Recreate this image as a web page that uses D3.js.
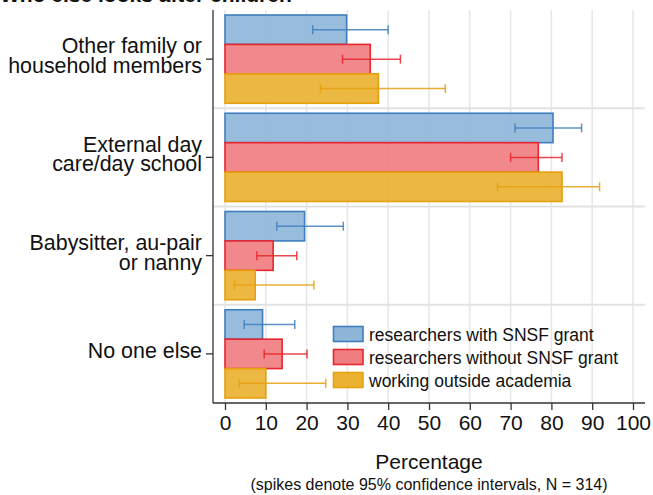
<!DOCTYPE html>
<html>
<head>
<meta charset="utf-8">
<script src="https://cdn.jsdelivr.net/npm/d3@7"></script>
<style>
  body { margin: 0; background: #fff; }
  svg { display: block; font-family: "Liberation Sans", Arial, sans-serif; }
</style>
</head>
<body>
<div id="chart"></div>
<script>
// categories (two-line labels as in the original)
const categories = [
  ["Other family or", "household members"],
  ["External day", "care/day school"],
  ["Babysitter, au-pair", "or nanny"],
  ["No one else"]
];
const seriesNames = ["researchers with SNSF grant", "researchers without SNSF grant", "working outside academia"];

// percentages
const withGrant    = [29.8, 80.4, 19.5, 9.2];
const withoutGrant = [35.6, 76.8, 11.8, 14.0];
const outside      = [37.6, 82.6, 7.4, 10.0];

// 95% confidence intervals
const withGrantLo    = [21.5, 71.1, 12.7, 4.7];
const withGrantHi    = [40.0, 87.4, 29.0, 17.1];
const withoutGrantLo = [28.8, 70.0, 7.8, 9.6];
const withoutGrantHi = [43.0, 82.6, 17.6, 20.1];
const outsideLo      = [23.4, 66.8, 2.3, 3.5];
const outsideHi      = [54.0, 91.8, 21.8, 24.7];

const xTicks = [0, 10, 20, 30, 40, 50, 60, 70, 80, 90, 100];

const width = 653, height = 495;
const strokeCols = ["#3f7fbf", "#e8262d", "#e6a00f"];
const fillCols = ["#8fb6d9", "#f07e81", "#ebb232"];

const seriesData = [
  { vals: withGrant, lo: withGrantLo, hi: withGrantHi },
  { vals: withoutGrant, lo: withoutGrantLo, hi: withoutGrantHi },
  { vals: outside, lo: outsideLo, hi: outsideHi }
];

const svg = d3.select("#chart").append("svg")
  .attr("width", width)
  .attr("height", height);

const plot = { left: 213, right: 645, top: 10, bottom: 403 };

const x = d3.scaleLinear().domain([0, 100]).range([225, 633]);
const y = d3.scaleBand().domain(d3.range(categories.length)).range([plot.top, plot.bottom]);
const yInner = d3.scaleBand().domain(d3.range(3)).range([5, y.bandwidth() - 5]);

// vertical grid
svg.append("g")
  .selectAll("line")
  .data(xTicks)
  .join("line")
  .attr("x1", d => x(d)).attr("x2", d => x(d))
  .attr("y1", plot.top).attr("y2", plot.bottom)
  .attr("stroke", "#e6e6e6")
  .attr("stroke-width", 1.5);

// horizontal separators between groups
svg.append("g")
  .selectAll("line")
  .data(d3.range(1, categories.length))
  .join("line")
  .attr("x1", plot.left).attr("x2", plot.right)
  .attr("y1", d => y(d)).attr("y2", d => y(d))
  .attr("stroke", "#e2e2e2")
  .attr("stroke-width", 2);

// bars
seriesData.forEach((s, si) => {
  const g = svg.append("g");
  g.selectAll("rect")
    .data(s.vals)
    .join("rect")
    .attr("x", x(0))
    .attr("y", (d, i) => y(i) + yInner(si))
    .attr("width", d => x(d) - x(0))
    .attr("height", yInner.bandwidth())
    .attr("fill", fillCols[si])
    .attr("fill-opacity", 0.92)
    .attr("stroke", strokeCols[si])
    .attr("stroke-width", 1.6);
});

// error spikes
seriesData.forEach((s, si) => {
  const g = svg.append("g")
    .attr("stroke", strokeCols[si])
    .attr("stroke-width", 1.5)
    .attr("stroke-opacity", 0.85);
  const cy = i => y(i) + yInner(si) + yInner.bandwidth() / 2;
  s.vals.forEach((v, i) => {
    g.append("line")
      .attr("x1", x(s.lo[i])).attr("x2", x(s.hi[i]))
      .attr("y1", cy(i)).attr("y2", cy(i));
    [s.lo[i], s.hi[i]].forEach(e => {
      g.append("line")
        .attr("x1", x(e)).attr("x2", x(e))
        .attr("y1", cy(i) - 4.5).attr("y2", cy(i) + 4.5);
    });
  });
});

// axes lines
svg.append("line")
  .attr("x1", plot.left).attr("x2", plot.left)
  .attr("y1", plot.top).attr("y2", plot.bottom)
  .attr("stroke", "#333").attr("stroke-width", 1.3);
svg.append("line")
  .attr("x1", plot.left).attr("x2", plot.right)
  .attr("y1", plot.bottom).attr("y2", plot.bottom)
  .attr("stroke", "#333").attr("stroke-width", 1.3);

// x axis
const xAxis = svg.append("g")
  .attr("transform", "translate(0," + plot.bottom + ")")
  .call(d3.axisBottom(x).tickValues(xTicks).tickSize(7).tickPadding(5));
xAxis.select(".domain").remove();
xAxis.selectAll(".tick line").attr("stroke", "#333").attr("stroke-width", 1.3);
xAxis.selectAll(".tick text")
  .attr("font-size", "21px")
  .attr("font-family", "Liberation Sans, Arial, sans-serif")
  .attr("fill", "#111");

// y axis ticks and labels (one text per line)
const yAxis = svg.append("g");
categories.forEach((lines, i) => {
  const cy = y(i) + y.bandwidth() / 2;
  yAxis.append("line")
    .attr("x1", plot.left - 7).attr("x2", plot.left)
    .attr("y1", cy).attr("y2", cy)
    .attr("stroke", "#333").attr("stroke-width", 1.3);
  const offs = lines.length === 1 ? [4.5] : [-5.7, 14];
  lines.forEach((ln, k) => {
    yAxis.append("text")
      .attr("text-anchor", "end")
      .attr("font-size", "21.4px")
      .attr("fill", "#111")
      .attr("x", 202).attr("y", cy + offs[k])
      .text(ln);
  });
});

// legend
const legend = svg.append("g");
seriesNames.forEach((name, si) => {
  const ly = 326.5 + si * 23;
  legend.append("rect")
    .attr("x", 333.5).attr("y", ly)
    .attr("width", 29.5).attr("height", 15)
    .attr("fill", fillCols[si])
    .attr("stroke", strokeCols[si])
    .attr("stroke-width", 1.6);
  legend.append("text")
    .attr("x", 369).attr("y", ly + 14)
    .attr("font-size", "17.5px")
    .attr("fill", "#111")
    .text(name);
});

// titles
svg.append("text")
  .attr("x", 0).attr("y", 2)
  .attr("font-size", "21px")
  .attr("font-weight", "bold")
  .attr("fill", "#111")
  .text("Who else looks after children");

svg.append("text")
  .attr("x", (plot.left + plot.right) / 2).attr("y", 469)
  .attr("text-anchor", "middle")
  .attr("font-size", "21px")
  .attr("fill", "#111")
  .text("Percentage");

svg.append("text")
  .attr("x", (plot.left + plot.right) / 2).attr("y", 490)
  .attr("text-anchor", "middle")
  .attr("font-size", "16px")
  .attr("fill", "#111")
  .text("(spikes denote 95% confidence intervals, N = 314)");
</script>
</body>
</html>
